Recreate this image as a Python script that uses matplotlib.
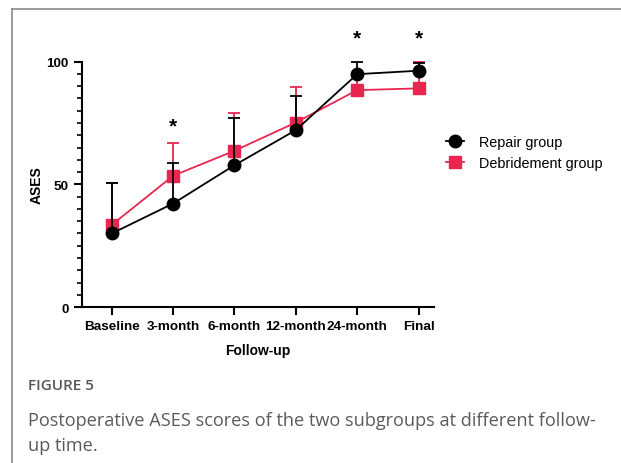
import numpy as np
import matplotlib.pyplot as plt
from matplotlib.lines import Line2D

# data
categories = ['Baseline', '3-month', '6-month', '12-month', '24-month', 'Final']
repair_mean = [30.0, 42.2, 57.8, 72.1, 94.9, 96.3]
repair_err = [20.5, 16.4, 19.3, 14.0, 5.1, 3.1]
debride_mean = [33.5, 53.5, 63.7, 75.2, 88.4, 89.1]
debride_err = [17.0, 13.3, 15.3, 14.3, 6.5, 10.9]
star_x = [1, 4, 5]
star_y = [73.8, 109.5, 109.5]

red = '#E8264F'
x = np.arange(len(categories))

fig = plt.figure(figsize=(6.21, 4.64), dpi=100)
ax = fig.add_axes([0.1316, 0.336, 0.568, 0.529])

ax.errorbar(x, debride_mean, yerr=[np.zeros(len(x)), debride_err], color=red,
            marker='s', markersize=8.5, linewidth=1.3, elinewidth=1.3,
            capsize=4.5, capthick=1.3, clip_on=False, zorder=3)
ax.errorbar(x, repair_mean, yerr=[np.zeros(len(x)), repair_err], color='black',
            marker='o', markersize=9, linewidth=1.3, elinewidth=1.3,
            capsize=4.5, capthick=1.3, clip_on=False, zorder=4)

for sx, sy in zip(star_x, star_y):
    ax.text(sx, sy, '*', ha='center', va='center', fontsize=15, fontweight='bold',
            family='Liberation Sans')

ax.set_xlim(-0.49, 5.26)
ax.set_ylim(0, 100)
ax.set_xticks(x)
ax.set_xticklabels(categories)
ax.set_yticks([0, 50, 100])
ax.set_yticks(np.arange(0, 101, 5), minor=True)
ax.spines['top'].set_visible(False)
ax.spines['right'].set_visible(False)
ax.spines['left'].set_linewidth(1.5)
ax.spines['bottom'].set_linewidth(1.5)
ax.tick_params(axis='both', which='major', length=6, width=1.5)
ax.tick_params(axis='y', which='minor', length=3.5, width=1.2)
for lab in ax.get_xticklabels() + ax.get_yticklabels():
    lab.set_fontweight('bold')
    lab.set_family('Liberation Sans')
    lab.set_fontsize(9.7)
ax.set_xlabel('Follow-up', fontweight='bold', family='Liberation Sans', fontsize=10, labelpad=8)
ax.set_ylabel('ASES', fontweight='bold', family='Liberation Sans', fontsize=10, labelpad=2)

handles = [Line2D([], [], color='black', marker='o', markersize=9, lw=1.3),
           Line2D([], [], color=red, marker='s', markersize=8.5, lw=1.3)]
ax.legend(handles, ['Repair group', 'Debridement group'], loc='center left',
          bbox_to_anchor=(0.995, 0.63), frameon=False,
          prop={'family': 'Liberation Sans', 'size': 10.4}, handlelength=1.3,
          handletextpad=1.0, labelspacing=0.45)

# frame and caption
fig.add_artist(Line2D([12 / 621, 12 / 621], [0, 1 - 10 / 464], color='#8a8a8a', lw=1.2))
fig.add_artist(Line2D([12 / 621, 1], [1 - 10 / 464, 1 - 10 / 464], color='#8a8a8a', lw=1.2))
fig.text(28 / 621, 1 - 386 / 464, 'FIGURE 5', fontsize=11, color='#555555',
         family='Open Sans', fontweight='semibold', va='center')
fig.text(28 / 621, 1 - 421 / 464, 'Postoperative ASES scores of the two subgroups at different follow-',
         fontsize=13.1, color='#5a5a5a', family='Open Sans', va='center')
fig.text(28 / 621, 1 - 446 / 464, 'up time.', fontsize=13.1, color='#5a5a5a',
         family='Open Sans', va='center')

fig.savefig('out.png', dpi=100)
